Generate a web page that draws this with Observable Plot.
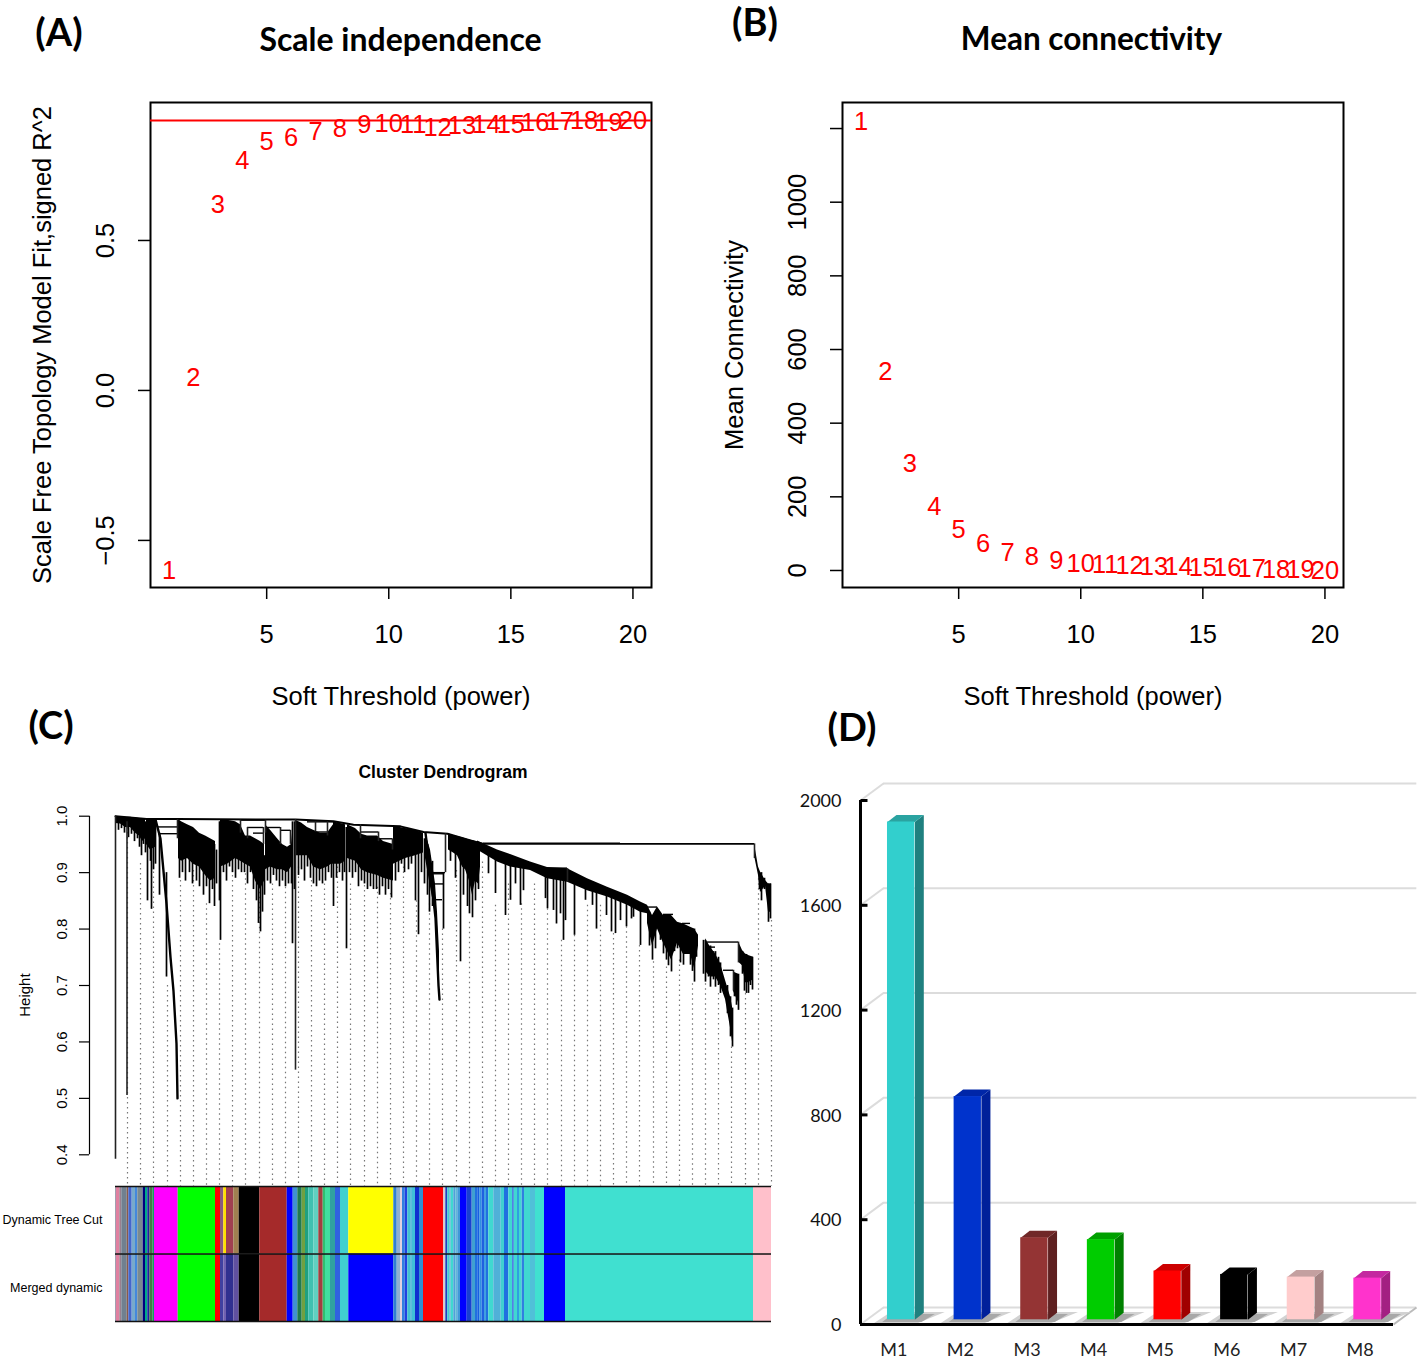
<!DOCTYPE html>
<html><head><meta charset="utf-8">
<script src="https://cdn.jsdelivr.net/npm/d3@7"></script>
<script src="https://cdn.jsdelivr.net/npm/@observablehq/plot@0.6"></script>
<style>
html,body{margin:0;padding:0;background:#fff}
#root{position:relative;width:1418px;height:1359px;overflow:hidden;background:#fff}
.t{position:absolute;transform:translate(-50%,-50%);white-space:nowrap;color:#000}
</style></head><body><div id="root"></div>
<script>
// ---------- Panels A and B ----------
const softPower=[1,2,3,4,5,6,7,8,9,10,11,12,13,14,15,16,17,18,19,20];
const fitR2=[-0.60,0.043,0.62,0.767,0.83,0.843,0.863,0.873,0.887,0.89,0.887,0.877,0.883,0.887,0.887,0.893,0.897,0.90,0.893,0.90];
const meanK=[1219,540,290,174,111,73,49,38,27,19,15,13,10,9,8,6,5,3,2,0];
const fitCutoff=0.90;
const powerTicks=[5,10,15,20];
const fitTicks=[-0.5,0,0.5];
const meanKTicks=[0,200,400,600,800,1000,1200];
const meanKTickLabels=[0,200,400,600,800,1000];
// ---------- Panel C ----------
const treeBackbone=[[0,1],[31,.995],[62,.995],[180,.994],[218,.991],[238,.985],[285,.982],[308,.972],[332,.969],[355,.957],[368,.951]];
const treeLong=[[368,639,.951],[368,505,.952]];
const treeMerges=[[42,63,.981],[43,62,.969],[125,150,.993],[132,148,.98],[138,148,.97],[152,165,.98],[165,175,.975],[192,218,.99],[200,212,.972],[245,263,.972],[263,277,.96],[317,330,.9],[318,328,.88],[320,327,.852],[317,328,.898],[432,452,.908],[437,448,.895],[532,542,.839],[548,558,.826],[567,575,.81],[592,623,.777],[592,600,.768],[608,618,.727]];
const treeDrops=[[0,1,.392],[11.5,.99,.505],[180,.994,.55],[62,.994,.96],[330,.969,.9],[623,.777,.74],[639,.951,.925],[452,.907,.883],[618,.727,.69],[125,.993,.97],[150,.993,.97],[132,.98,.96],[148,.98,.95],[165,.98,.95],[175,.975,.95],[200,.99,.972],[212,.99,.965],[245,.985,.96],[263,.972,.955],[277,.96,.94]];
const treeDiagonals=[[[40,.994],[45,.96],[51,.845],[55,.75],[58,.69],[61,.597],[62,.50]],[[310,.97],[315,.9],[320,.82],[323,.70],[324,.675]]];
const treeMasses=[
 [[0,1,.987],[5,.999,.986],[10,.998,.98],[15,.998,.98],[20,.997,.97],[24,.996,.965],[27,.996,.955],[30,.995,.96]],
 [[31,.995,.95],[35,.995,.94],[40,.995,.945]],
 [[63,.994,.925],[66,.99,.92],[72,.985,.925],[78,.98,.915],[84,.97,.91],[90,.965,.895],[95,.96,.885],[100,.955,.89]],
 [[105,.994,.91],[112,.993,.915],[120,.99,.925],[125,.985,.92],[130,.965,.915],[135,.965,.91],[140,.96,.885],[145,.955,.87],[149,.95,.885]],
 [[150,.985,.905],[155,.975,.91],[162,.96,.905],[167,.95,.905],[172,.945,.9],[176,.95,.91],[178,.99,.915]],
 [[180,.993,.93],[186,.988,.93],[192,.98,.93],[198,.975,.91],[205,.97,.905],[212,.97,.91],[216,.98,.915],[218,.985,.915]],
 [[218,.99,.915],[225,.987,.915],[230,.985,.92]],
 [[232,.985,.925],[240,.978,.92],[246,.968,.905],[252,.965,.9],[262,.965,.895],[268,.955,.89],[278,.95,.885]],
 [[278,.982,.915],[290,.978,.925],[300,.975,.93],[308,.97,.935]],
 [[310,.97,.925],[315,.94,.875],[320,.88,.825],[322,.83,.75],[324,.76,.70]],
 [[333,.969,.94],[338,.966,.935],[342,.964,.93],[347,.962,.91],[350,.96,.905],[354,.958,.885],[357,.957,.86],[360,.955,.885],[363,.953,.88],[365,.95,.91]],
 [[362,.956,.94],[382,.94,.919],[395,.932,.91],[415,.919,.904],[432,.909,.889],[452,.907,.883],[472,.889,.868],[492,.874,.857],[512,.86,.842],[525,.848,.83],[532,.842,.827]],
 [[532,.842,.81],[537,.824,.77],[542,.839,.80],[548,.824,.775],[556,.824,.745],[562,.812,.775],[568,.809,.755],[575,.803,.755],[579,.80,.73],[583,.789,.77]],
 [[590,.783,.725],[595,.768,.715],[600,.756,.715],[605,.739,.70],[610,.709,.675],[615,.68,.625],[617,.662,.60]],
 [[618,.724,.69],[623,.72,.67]],
 [[624,.774,.74],[627,.762,.735],[630,.756,.705],[633,.753,.705],[638,.75,.71]],
 [[639,.951,.93],[643,.91,.895],[645,.901,.865],[650,.886,.876],[653,.88,.83],[656,.88,.83]]
];
const treeSpikes=[[3,.99,.975],[6,.99,.978],[9,.99,.97],[13,.99,.962],[16,.99,.968],[19,.99,.955],[22,.99,.96],[24,.99,.945],[26,.99,.93],[28,.99,.95],[30,.99,.935],
[32,.99,.85],[35,.99,.92],[36,.99,.835],[38,.99,.905],[40,.99,.915],[44,.97,.86],[51,.9,.715],
[64,.99,.89],[67,.98,.9],[70,.98,.885],[74,.97,.9],[77,.97,.88],[81,.96,.885],[84,.96,.875],[88,.96,.86],[91,.96,.875],[94,.95,.845],[97,.95,.87],[99,.95,.84],[101,.94,.88],[104,.99,.85],[105,.99,.78],
[108,.99,.9],[111,.99,.885],[114,.98,.91],[117,.98,.90],[120,.97,.89],[123,.97,.905],[126,.95,.9],[129,.95,.9],[132,.95,.88],[135,.95,.9],[138,.94,.87],[141,.94,.85],[143,.94,.81],[145,.94,.795],[147,.93,.83],[149,.93,.86],
[152,.95,.885],[155,.95,.88],[158,.94,.895],[161,.94,.885],[164,.93,.875],[167,.93,.885],[170,.925,.875],[173,.925,.88],[176,.93,.88],[177,.99,.774],[179,.99,.87],
[183,.985,.895],[186,.975,.905],[189,.97,.885],[192,.965,.91],[195,.965,.89],[198,.96,.88],[201,.96,.875],[204,.96,.885],[207,.96,.88],[210,.96,.885],[213,.96,.9],[216,.96,.89],[218,.98,.84],
[221,.98,.89],[224,.98,.9],[227,.98,.885],[229,.98,.90],[231,.98,.765],
[234,.98,.9],[237,.97,.89],[240,.97,.9],[243,.96,.875],[246,.95,.885],[249,.95,.88],[252,.95,.87],[255,.95,.875],[258,.95,.87],[261,.95,.87],[264,.945,.86],[267,.94,.875],[270,.94,.86],[273,.935,.87],[276,.935,.855],
[280,.97,.885],[283,.97,.9],[286,.97,.915],[289,.97,.9],[293,.97,.905],[296,.97,.915],[300,.97,.85],[303,.97,.79],[306,.96,.9],[309,.96,.88],
[312,.95,.86],[314,.93,.83],[317,.92,.84],[328,.9,.8],
[335,.96,.92],[340,.96,.89],[345,.96,.742],[348,.955,.86],[352,.95,.84],[354,.95,.827],[357,.95,.82],[360,.95,.85],[363,.95,.87],
[373,.94,.898],[380,.93,.863],[390,.92,.824],[395,.92,.851],[400,.92,.88],[405,.92,.842],[408,.92,.868],[430,.9,.854],[432,.9,.836],[438,.895,.833],[441,.89,.809],[445,.89,.827],[448,.89,.78],[450,.89,.815],[459,.885,.789],[470,.875,.851],[477,.87,.842],[481,.87,.80],[491,.86,.824],[496,.855,.795],[500,.855,.792],[505,.85,.815],[511,.85,.804],[516,.84,.818],[518,.84,.821],[525,.84,.771],
[534,.83,.77],[537,.82,.745],[540,.82,.765],[545,.82,.78],[548,.82,.756],[551,.82,.745],[553,.82,.735],[556,.82,.724],[559,.81,.76],[562,.81,.765],[565,.81,.74],[568,.8,.736],[571,.8,.76],[575,.8,.736],[577,.8,.725],[579,.8,.706],[581,.79,.75],[588,.78,.72],[590,.78,.706],[593,.77,.715],[595,.77,.697],[598,.76,.71],[600,.76,.697],[603,.75,.7],[605,.74,.686],[612,.7,.65],[615,.68,.609],[617,.66,.591],[619,.72,.68],[621,.72,.665],[623,.72,.656],[627,.76,.72],[629,.755,.69],[631,.755,.686],[633,.75,.686],[635,.75,.7],[637,.75,.692],[644,.9,.87],[646,.9,.85],[649,.89,.87],[653,.88,.812],[655,.88,.818]];
const guideLeaf=[12,25,38,52,65,78,91,104,117,130,144,157,170,183,196,209,222,235,249,262,275,288,301,314,327,341,354,367,380,393,406,419,432,446,459,472,485,498,511,524,538,551,564,577,590,603,616,630,643,656];
const guideTop=[.98,.916,.91,.70,.886,.904,.845,.774,.904,.898,.874,.88,.874,.91,.886,.88,.91,.88,.886,.874,.863,.91,.85,.845,.80,.904,.812,.919,.842,.88,.845,.88,.836,.78,.789,.842,.842,.792,.804,.771,.742,.733,.745,.703,.703,.686,.591,.686,.889,.815];
const guideBottom=.3446;
const heightTicks=[.4,.5,.6,.7,.8,.9,1];
const bandRows=["Dynamic Tree Cut","Merged dynamic"];
const bandStarts=[0,1,4.3,6.3,11.7,13.3,16.7,20,22.3,27.7,30,32.3,34.3,37.7,39,62.7,100,105,108.3,111,118.3,123.7,144.3,171.7,177.7,182.3,186.7,190,193.3,198.3,203.3,207.7,210,215,220,225,233.3,278.3,281.7,285,287,289.7,292.3,295.7,296.7,300,304,308,328.3,330.3,332.3,334.3,335.7,338.3,340.3,342.3,345,351.7,356.7,360,362.3,364.3,366.7,369,371,373.3,378.3,385.7,389,393.3,397.3,398.7,402,404,406.7,409,415,420,429,450,638,656];
const bandColors=["#a0a0b0","#e080a0","#9a7f8f","#708090","#8b5a4a","#4466cc","#77aacc","#4488dd","#7a8a90","#000080","#00aa88","#2020a0","#447744","#10a060","#ff00ff","#00ff00","#ff0000","#8a5a80","#ffe000","#a04050","#a08050","#000000","#a52a2a","#0000ff","#4090d0","#207a50","#70a040","#20a080","#40c0b0","#60d0c0","#a04040","#30c070","#40e0a0","#30a0a0","#3060e0","#40d0d0","#ffff00","#3080d0","#90b0d0","#e0d0e0","#3080e0","#2040e0","#40c0d0","#30a0d0","#40c0d8","#1030d0","#3090d0","#ff0000","#d0d0d0","#2040c0","#40d0d0","#60b0d0","#40d8d0","#50a0d8","#60b8d8","#4098d8","#0000ff","#1840d0","#40a0d0","#2070e0","#1860e0","#3090e0","#2060e0","#40a0e0","#2070e0","#40d8d0","#50b0d8","#40d0d0","#2070e0","#40d8d0","#2050e0","#40d8d0","#30a0e0","#40d8d0","#3080e0","#40d8d0","#50c0d8","#40e0d0","#0000ff","#40e0d0","#ffc0cb"];
const mergedChanges=new Map([[105,"#4040a0"],[108.3,"#7060b0"],[111,"#303090"],[118.3,"#6050a0"],[233.3,"#0000ff"]]);
// ---------- Panel D ----------
const moduleNames=["M1","M2","M3","M4","M5","M6","M7","M8"];
const moduleSizes=[1900,852,313,306,186,173,163,159];
const frontColors=["#32cfcd","#0033cc","#943434","#00cc00","#ff0000","#000000","#ffcccc","#ff33cc"];
const sideColors=["#1f807f","#00209a","#5e2020","#008000","#a00000","#000000","#a38282","#a32082"];
const topColors=["#2aa3a1","#0026a8","#702828","#00a000","#cc0000","#000000","#c4a0a0","#c428a0"];
const sizeTicks=[0,400,800,1200,1600,2000];

const root=document.getElementById("root");
const R="'Liberation Sans',Arial,sans-serif", C="Lato,sans-serif";
function put(txt,x,y,font,size,weight,extra){const d=document.createElement("div");d.className="t";d.textContent=txt;
 d.style.cssText=`left:${x}px;top:${y}px;font-family:${font};font-size:${size}px;font-weight:${weight};${extra||""}`;root.appendChild(d);}
function place(left,top,opts){const s=Plot.plot({...opts,style:{position:"absolute",left:left+"px",top:top+"px",overflow:"visible",background:"transparent",fontFamily:R}});root.appendChild(s);}

function rPanel(left,xDomain,yDomain,yVals,yTicks,yLabelTicks,yLabel,yFmt,tickDx,labelDx){
 place(left,60,{width:700,height:640,marginLeft:150,marginRight:49,marginTop:42,marginBottom:113,
  x:{domain:xDomain},y:{domain:yDomain},
  marks:[
   Plot.frame({stroke:"#000",strokeWidth:2}),
   ...(left===0?[Plot.ruleY([fitCutoff],{stroke:"#ff0000",strokeWidth:2})]:[]),
   Plot.axisX({ticks:powerTicks,tickSize:12,tickPadding:25,fontSize:25.5,label:null,strokeWidth:1.5}),
   Plot.axisY({ticks:yTicks,tickSize:12,tickFormat:()=>"",label:null,strokeWidth:1.5}),
   Plot.text(yLabelTicks,{y:d=>d,text:d=>yFmt(d),frameAnchor:"left",textAnchor:"middle",dx:tickDx,rotate:-90,fontSize:25.5,fill:"#000"}),
   Plot.text(softPower,{x:d=>d,y:(d,i)=>yVals[i],text:d=>String(d),fill:"#ff0000",fontSize:25.5}),
   Plot.text(["Soft Threshold (power)"],{frameAnchor:"bottom",dy:117,fontSize:25.5,fill:"#000"}),
   Plot.text([yLabel],{frameAnchor:"left",textAnchor:"middle",dx:labelDx,rotate:-90,fontSize:25.5,fill:"#000"})
  ]});
}
rPanel(0,[0.242,20.76],[-0.657,0.96],fitR2,fitTicks,fitTicks,"Scale Free Topology Model Fit,signed R^2",d=>d===0?"0.0":d3.format(".1f")(d).replace("-","\u2212"),-45,-108);
rPanel(692,[0.242,20.76],[-46.2,1270.7],meanK,meanKTicks,meanKTickLabels,"Mean Connectivity",d=>String(d),-45,-108);

// Panel C tree
place(0,770,{width:800,height:420,marginLeft:89,marginRight:29,marginTop:40,marginBottom:4,
 x:{domain:[0,656],range:[115,771],axis:null},
 y:{domain:[.4,1],range:[384.3,45.7]},
 marks:[
  Plot.ruleX(guideLeaf,{x:d=>d,y1:(d,i)=>guideTop[i],y2:guideBottom,stroke:"#777",strokeWidth:1.2,strokeDasharray:"1.5 3.5"}),
  Plot.ruleX([-26],{y1:.4,y2:1,stroke:"#000",strokeWidth:1.2}),
  Plot.axisY({ticks:heightTicks,tickSize:10,tickFormat:()=>"",label:null,strokeWidth:1.2}),
  Plot.text(heightTicks,{y:d=>d,text:d=>d3.format(".1f")(d),frameAnchor:"left",textAnchor:"middle",dx:-27,rotate:-90,fontSize:15,fill:"#000"}),
  Plot.text(["Height"],{y:[.683],frameAnchor:"left",textAnchor:"middle",dx:-64,rotate:-90,fontSize:15,fill:"#000"}),
  ...treeMasses.map(m=>Plot.areaY(m,{x:d=>d[0],y1:d=>d[1],y2:d=>d[2],fill:"#000",curve:"linear"})),
  Plot.ruleX(treeSpikes,{x:d=>d[0],y1:d=>d[1],y2:d=>d[2],stroke:"#000",strokeWidth:1.7}),
  Plot.line(treeBackbone,{x:d=>d[0],y:d=>d[1],stroke:"#000",strokeWidth:2}),
  Plot.ruleY(treeLong,{x1:d=>d[0],x2:d=>d[1],y:d=>d[2],stroke:"#000",strokeWidth:1.6}),
  Plot.ruleY(treeMerges,{x1:d=>d[0],x2:d=>d[1],y:d=>d[2],stroke:"#000",strokeWidth:1.4}),
  Plot.ruleX(treeDrops,{x:d=>d[0],y1:d=>d[1],y2:d=>d[2],stroke:"#222",strokeWidth:1.6}),
  ...treeDiagonals.map(m=>Plot.line(m,{x:d=>d[0],y:d=>d[1],stroke:"#000",strokeWidth:2.4}))
 ]});

// Panel C colour bands
const bandIdx=d3.range(bandColors.length);
place(0,1186,{width:800,height:135,marginLeft:115,marginRight:29,marginTop:0,marginBottom:0,
 x:{domain:[0,656],axis:null},y:{domain:[2,0],axis:null},color:{type:"identity"},
 marks:[
  Plot.rect(bandIdx,{x1:i=>bandStarts[i],x2:i=>bandStarts[i+1],y1:0,y2:1,fill:i=>bandColors[i]}),
  Plot.rect(bandIdx,{x1:i=>bandStarts[i],x2:i=>bandStarts[i+1],y1:1,y2:2,fill:i=>mergedChanges.get(bandStarts[i])||bandColors[i]}),
  Plot.ruleY([0,1,2],{stroke:"#111",strokeWidth:1.6}),
  Plot.text(bandRows,{x:0,y:(d,i)=>i+.5,text:d=>d,textAnchor:"end",dx:-13,fontSize:12.5,fill:"#000"})
 ]});

// Panel D 3-D bars
const base=18,depthX=.135,depthV=27,gridV=65,gridX=.345;
const mark3d=[];
moduleNames.forEach((m,i)=>{const xl=i+.405,xr=i+.815;
 mark3d.push(Plot.line([[xl-.2,6],[xr+.05,6],[xr+.45,48],[xl+.05,48]],{x:d=>d[0],y:d=>d[1],fill:"#d2d2d2",stroke:"none",curve:"linear-closed"}));
 mark3d.push(Plot.line([[xl-.08,10],[xr+.1,10],[xr+.3,40],[xl+.08,40]],{x:d=>d[0],y:d=>d[1],fill:"#a8a8a8",stroke:"none",curve:"linear-closed"}));
});
moduleNames.forEach((m,i)=>{const xl=i+.405,xr=i+.815,top=base+moduleSizes[i];
 mark3d.push(Plot.line([[xr,base],[xr+depthX,base+depthV],[xr+depthX,top+depthV],[xr,top]],{x:d=>d[0],y:d=>d[1],fill:sideColors[i],stroke:"none",curve:"linear-closed"}));
 mark3d.push(Plot.line([[xl,top],[xl+depthX,top+depthV],[xr+depthX,top+depthV],[xr,top]],{x:d=>d[0],y:d=>d[1],fill:topColors[i],stroke:"none",curve:"linear-closed"}));
 mark3d.push(Plot.rect([i],{x1:xl,x2:xr,y1:base,y2:top,fill:frontColors[i]}));
});
place(790,770,{width:628,height:589,marginLeft:70,marginRight:25,marginTop:30,marginBottom:35,
 x:{domain:[0,8],range:[70,603],axis:null},y:{domain:[0,2000],range:[554,30]},
 marks:[
  Plot.ruleY(sizeTicks,{y:d=>d+gridV,x1:gridX,x2:8.35,stroke:"#dcdcdc",strokeWidth:2}),
  Plot.link(sizeTicks,{x1:0,x2:gridX,y1:d=>d,y2:d=>d+gridV,stroke:"#dcdcdc",strokeWidth:2}),
  Plot.link([0],{x1:8,x2:8.345,y1:0,y2:gridV,stroke:"#bbb",strokeWidth:2}),
  ...mark3d,
  Plot.ruleX([0],{y1:0,y2:2000,stroke:"#000",strokeWidth:3}),
  Plot.link(sizeTicks,{x1:0,x2:.105,y1:d=>d,y2:d=>d,stroke:"#000",strokeWidth:3}),
  Plot.ruleY([0],{x1:0,x2:8,stroke:"#000",strokeWidth:3}),
  Plot.axisY({ticks:sizeTicks,tickSize:0,tickPadding:19,tickFormat:"d",label:null,fontSize:18,fontFamily:C,fill:"#111",dy:1}),
  Plot.text(moduleNames,{x:(d,i)=>i+.5,y:0,dy:26,text:d=>d,fontSize:18,fontFamily:C,fill:"#222"})
 ]});

// Titles and panel letters
put("(A)",59,31,C,38,700);put("(B)",755,21,C,38,700);put("(C)",51,724,C,38,700);put("(D)",852,726,C,38,700);
put("Scale independence",400.5,38,C,32,700);put("Mean connectivity",1091.5,38,C,31.5,700);
put("Cluster Dendrogram",443,772,R,17.5,700);
</script></body></html>
